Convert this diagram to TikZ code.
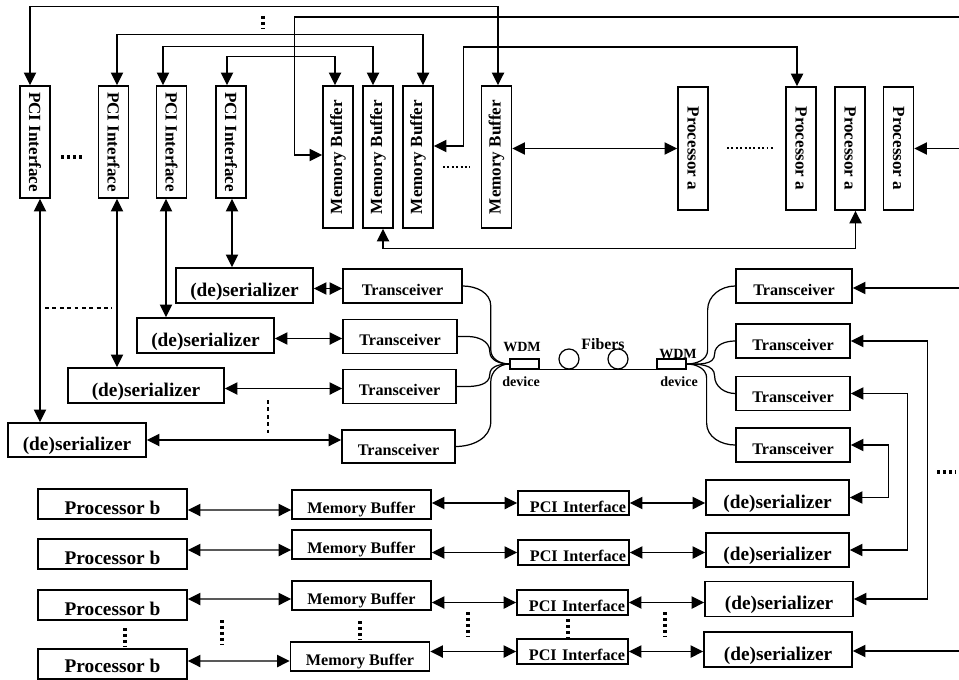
\documentclass[tikz,border=0pt]{standalone}
\usepackage{fontspec}
\setmainfont{Liberation Serif}
\usepackage{tikz}
\usetikzlibrary{
    arrows.meta,
    positioning,
    calc
}
\tikzset{
    box/.style={
        rectangle, draw, line width=0.9pt, inner sep=0pt, align=center
    },
    vbox/.style={
        box, minimum width=0.6cm, minimum height=#1,
        font=\fontsize{9.7}{11}\selectfont\bfseries
    },
    serbox/.style={
        box, minimum width=#1, minimum height=0.7cm, text height=12pt, text depth=0pt,
        font=\fontsize{11}{13}\selectfont\bfseries
    },
    trxbox/.style={
        box, minimum width=#1, minimum height=0.68cm, text height=10.7pt, text depth=0pt,
        font=\fontsize{9.2}{11}\selectfont\bfseries
    },
    procbox/.style={
        box, minimum width=2.98cm, minimum height=0.6cm, text height=12.5pt, text depth=0pt,
        font=\fontsize{11}{13}\selectfont\bfseries
    },
    bufbox/.style={
        box, minimum width=2.78cm, minimum height=0.58cm, text height=10pt, text depth=0pt,
        font=\fontsize{9.2}{11}\selectfont\bfseries
    },
    pcibox/.style={
        box, minimum width=2.22cm, minimum height=0.49cm, text width=2.1cm, align=right,
        text height=10.8pt, text depth=0pt, font=\fontsize{9.2}{11}\selectfont\bfseries
    },
    link/.style={
        -{Triangle[length=7.2pt,width=7pt]}, line width=0.8pt
    },
    dlink/.style={
        {Triangle[length=7.2pt,width=7pt]}-{Triangle[length=7.2pt,width=7pt]}, line width=0.8pt
    },
}

\begin{document}
\begin{tikzpicture}[
    x=0.02cm, y=-0.02cm,
    fiber/.style={line width=0.7pt},
    wdmbox/.style={rectangle, draw, line width=0.7pt, minimum width=0.58cm, minimum height=0.2cm, inner sep=0pt},
    coil/.style={circle, draw, line width=0.7pt, minimum size=0.4cm, inner sep=0pt},
    tag/.style={font=\fontsize{8}{9}\selectfont\bfseries, inner sep=0pt},
    dotrow/.style={line width=1.8pt, dash pattern=on 1.6pt off 1.8pt},
    thindots/.style={line width=1.1pt, dash pattern=on 1.1pt off 1.4pt},
    dashrow/.style={line width=1.5pt, dash pattern=on 2.2pt off 2pt},
]
    \useasboundingbox (0,0) rectangle (959,679);

    \node[vbox=2.24cm] (pcia1) at (35,142) {\rotatebox{-90}{PCI Interface}};
    \node[vbox=2.24cm] (pcia2) at (113.5,142) {\rotatebox{-90}{PCI Interface}};
    \node[vbox=2.24cm] (pcia3) at (171.5,142) {\rotatebox{-90}{PCI Interface}};
    \node[vbox=2.24cm] (pcia4) at (231,142) {\rotatebox{-90}{PCI Interface}};

    \node[vbox=2.84cm] (mba1) at (338,157) {\rotatebox{90}{Memory Buffer}};
    \node[vbox=2.84cm] (mba2) at (378,157) {\rotatebox{90}{Memory Buffer}};
    \node[vbox=2.84cm] (mba3) at (418,157) {\rotatebox{90}{Memory Buffer}};
    \node[vbox=2.84cm] (mba4) at (496.5,157) {\rotatebox{90}{Memory Buffer}};

    \node[vbox=2.46cm] (proca1) at (693,148.5) {\rotatebox{-90}{Processor a}};
    \node[vbox=2.46cm] (proca2) at (801,148.5) {\rotatebox{-90}{Processor a}};
    \node[vbox=2.46cm] (proca3) at (850,148.5) {\rotatebox{-90}{Processor a}};
    \node[vbox=2.46cm] (proca4) at (898.5,148.5) {\rotatebox{-90}{Processor a}};

    \node[serbox=2.74cm] (ser1) at (244.5,285.5) {(de)serializer};
    \node[serbox=2.74cm] (ser2) at (205.5,335.5) {(de)serializer};
    \node[serbox=3.12cm] (ser3) at (146,385.5) {(de)serializer};
    \node[serbox=2.76cm, minimum height=0.68cm] (ser4) at (77,440) {(de)serializer};

    \node[trxbox=2.38cm] (trl1) at (402.5,286) {Transceiver};
    \node[trxbox=2.28cm] (trl2) at (400,336.5) {Transceiver};
    \node[trxbox=2.26cm] (trl3) at (399.5,386.5) {Transceiver};
    \node[trxbox=2.26cm, minimum height=0.66cm] (trl4) at (398.5,446.5) {Transceiver};

    \node[trxbox=2.32cm] (trr1) at (794,286) {Transceiver};
    \node[trxbox=2.28cm] (trr2) at (793,341) {Transceiver};
    \node[trxbox=2.28cm] (trr3) at (793,393.5) {Transceiver};
    \node[trxbox=2.28cm] (trr4) at (793,445) {Transceiver};

    \node[serbox=2.86cm] (serb1) at (777.5,497.5) {(de)serializer};
    \node[serbox=2.86cm, minimum height=0.68cm] (serb2) at (777.5,550) {(de)serializer};
    \node[serbox=2.96cm] (serb3) at (779,599) {(de)serializer};
    \node[serbox=2.96cm] (serb4) at (778,649.5) {(de)serializer};

    \node[procbox] (prb1) at (112.5,504) {Processor b};
    \node[procbox] (prb2) at (112.5,554) {Processor b};
    \node[procbox] (prb3) at (112.5,605) {Processor b};
    \node[procbox, minimum height=0.6cm, text height=10pt] (prb4) at (112.5,664) {Processor b};

    \node[bufbox] (mbb1) at (361.5,504.5) {Memory Buffer};
    \node[bufbox] (mbb2) at (361.5,544.5) {Memory Buffer};
    \node[bufbox] (mbb3) at (361.5,595.5) {Memory Buffer};
    \node[bufbox] (mbb4) at (360,656.5) {Memory Buffer};

    \node[pcibox] (pcib1) at (573.5,503) {PCI Interface};
    \node[pcibox] (pcib2) at (573.5,552.5) {PCI Interface};
    \node[pcibox] (pcib3) at (572.5,602.5) {PCI Interface};
    \node[pcibox] (pcib4) at (572.5,651.5) {PCI Interface};

    \node[wdmbox] (wdml) at (524.5,364) {};
    \node[wdmbox] (wdmr) at (671.5,364) {};
    \node[coil] (coil1) at (569,359) {};
    \node[coil] (coil2) at (618,359) {};
    \node[tag] (wdmlt) at (522,347) {WDM};
    \node[tag] (wdmlb) at (521,382) {device};
    \node[tag, font=\fontsize{9}{10}\selectfont\bfseries] (fibt) at (603,344) {Fibers};
    \node[tag] (wdmrt) at (678,354) {WDM};
    \node[tag] (wdmrb) at (679,382) {device};

    \coordinate (ina) at (959,17);
    \coordinate (inb) at (959,148.5);
    \coordinate (inc) at (959,288);
    \coordinate (ind) at (959,651);
    \coordinate (p1) at ($(pcia1.south)+(5,0)$);
    \coordinate (p2) at ($(pcia2.south)+(3.5,0)$);
    \coordinate (p3) at ($(pcia3.south)+(-5.5,0)$);
    \coordinate (p4) at ($(pcia4.south)+(1,0)$);

    \draw[dlink] ($(pcia1.north)+(-5,0)$) -- ++(0,-79) -| ($(mba4.north)+(1.5,0)$);
    \draw[dlink] ($(pcia2.north)+(3.5,0)$) -- ++(0,-51) -| ($(mba3.north)+(5,0)$);
    \draw[dlink] ($(pcia3.north)+(-8.5,0)$) -- ++(0,-39) -| ($(mba2.north)+(-5,0)$);
    \draw[dlink] ($(pcia4.north)+(-4,0)$) -- ++(0,-29) -| ($(mba1.north)+(-3,0)$);
    \draw[link] (ina) -| ($(mba1.west)+(-28,-2)$) -- ($(mba1.west)+(0,-2)$);
    \draw[dlink] ($(mba3.east)+(0,-11)$) -- ++(30,0) -- ++(0,-99) -| ($(proca2.north)+(-4,0)$);
    \draw[dlink] (mba4.east |- proca1.west) -- (proca1.west);
    \draw[link] (inb) -- (proca4.east);
    \draw[dlink] ($(mba2.south)+(5,0)$) -- ++(0,20) -| ($(proca3.south)+(5.5,0)$);

    \draw[dlink] (p1) -- (p1 |- ser4.north);
    \draw[dlink] (p2) -- (p2 |- ser3.north);
    \draw[dlink] (p3) -- (p3 |- ser2.north);
    \draw[dlink] (p4) -- (p4 |- ser1.north);

    \draw[dlink] ($(ser1.east)+(0,3)$) -- ($(trl1.west)+(0,2.5)$);
    \draw[dlink] ($(ser2.east)+(0,3)$) -- ($(trl2.west)+(0,2)$);
    \draw[dlink] ($(ser3.east)+(0,3)$) -- ($(trl3.west)+(0,2)$);
    \draw[dlink] (ser4.east) -- (ser4.east -| trl4.west);

    \draw[fiber] (trl1.east) to[out=0,in=90] ++(28,20) -- ++(0,44) to[out=-90,in=180] (wdml.west);
    \draw[fiber] (trl2.east) -- ++(10,0) to[out=0,in=90] ++(22,15) to[out=-90,in=180] (wdml.west);
    \draw[fiber] (trl3.east) -- ++(10,0) to[out=0,in=-90] ++(23,-12) to[out=90,in=180] (wdml.west);
    \draw[fiber] (trl4.east) to[out=0,in=-90] ++(35,-25) -- ++(0,-40) to[out=90,in=180] (wdml.west);
    \draw[fiber] (wdml.south east) -- (wdmr.south west);
    \draw[fiber] (wdmr.east) to[out=0,in=-90] ++(21,-14) -- ++(0,-40) to[out=90,in=180] (trr1.west);
    \draw[fiber] (wdmr.east) to[out=0,in=-90] ++(28,-10) to[out=90,in=180] (trr2.west);
    \draw[fiber] (wdmr.east) to[out=0,in=90] ++(28,12) to[out=-90,in=180] (trr3.west);
    \draw[fiber] (wdmr.east) to[out=0,in=90] ++(20,14) -- ++(0,45) to[out=-90,in=180] (trr4.west);

    \draw[link] (inc) -- (inc -| trr1.east);
    \draw[dlink] (trr2.east) -- ++(77,0) |- (serb3.east);
    \draw[dlink] (trr3.east) -- ++(57,0) |- (serb2.east);
    \draw[dlink] (trr4.east) -- ++(38,0) |- (serb1.east);
    \draw[link] (ind) -- (ind -| serb4.east);

    \draw[dlink] ($(prb1.east)+(0,6)$) -- ($(mbb1.west)+(0,5.5)$);
    \draw[dlink] ($(prb2.east)+(0,-4)$) -- ($(mbb2.west)+(0,5.5)$);
    \draw[dlink] ($(prb3.east)+(0,-6)$) -- ($(mbb3.west)+(0,3.5)$);
    \draw[dlink] ($(prb4.east)+(0,-3)$) -- ($(mbb4.west)+(0,4.5)$);

    \draw[dlink] (mbb1.east |- pcib1.west) -- (pcib1.west);
    \draw[dlink] (mbb2.east |- pcib2.west) -- (pcib2.west);
    \draw[dlink] (mbb3.east |- pcib3.west) -- (pcib3.west);
    \draw[dlink] (mbb4.east |- pcib4.west) -- (pcib4.west);

    \draw[dlink] (pcib1.east) -- (pcib1.east -| serb1.west);
    \draw[dlink] (pcib2.east) -- (pcib2.east -| serb2.west);
    \draw[dlink] (pcib3.east) -- (pcib3.east -| serb3.west);
    \draw[dlink] (pcib4.east) -- (pcib4.east -| serb4.west);

    \draw[dotrow] (263,16) -- (263,28);
    \draw[dotrow] (61,157) -- (84,157);
    \draw[thindots] (443,167) -- (470,167);
    \draw[thindots] (727,148) -- (775,148);
    \draw[dotrow] (937,472) -- (955,472);
    \draw[dashrow] (45,308) -- (112,308);
    \draw[dashrow] (268,400) -- (268,435);
    \draw[dotrow] (125,628) -- (125,646);
    \draw[dotrow] (222,620) -- (222,645);
    \draw[dotrow] (360,621) -- (360,640);
    \draw[dotrow] (468,612) -- (468,637);
    \draw[dotrow] (568,619) -- (568,639);
    \draw[dotrow] (665,612) -- (665,637);
\end{tikzpicture}
\end{document}
